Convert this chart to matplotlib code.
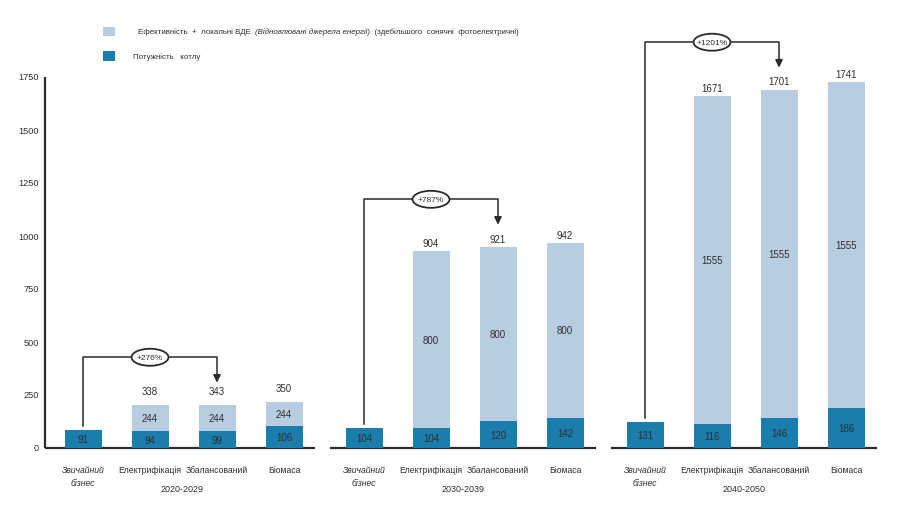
import matplotlib
matplotlib.use('Agg')
import matplotlib.pyplot as plt
from matplotlib.patches import Ellipse, Rectangle

# --- data ---
categories = ['Звичайний\nбізнес', 'Електрифікація', 'Збалансований', 'Біомаса']
periods = ['2020-2029', '2030-2039', '2040-2050']
growth = ['+276%', '+787%', '+1201%']

# printed values
kotel = [[91, 94, 99, 106], [104, 104, 120, 142], [131, 116, 146, 186]]
efekt = [[0, 244, 244, 244], [0, 800, 800, 800], [0, 1555, 1555, 1555]]
totals = [[0, 338, 343, 350], [0, 904, 921, 942], [0, 1671, 1701, 1741]]

# bar heights as they are drawn in the original (not always to scale with the labels)
kotel_bar = [[85, 80, 80, 104], [94, 94, 127, 142], [123, 113, 142, 189]]
efekt_bar = [[0, 123, 123, 113], [0, 835, 821, 825], [0, 1547, 1547, 1537]]

yticks = [0, 250, 500, 750, 1000, 1250, 1500, 1750]

legend_light = 'Ефективність  +  локальні ВДЕ  '
legend_light_it = '(Відновлювані джерела енергії)'
legend_light_end = '  (здебільшого  сонячні  фотоелектричні)'
legend_dark = 'Потужність   котлу'

DARK = '#1a7dab'
LIGHT = '#b9cde1'
TXT = '#2e2e2e'
LINE = '#2b2b2b'

plt.rcParams['font.family'] = ['Liberation Sans', 'DejaVu Sans']

fig = plt.figure(figsize=(9, 5.06), dpi=100)
ax = fig.add_axes([0, 0, 1, 1])
# x in pixel units, y in data units: 0 sits at 449 px, 1750 at 78 px
px = 0.212
ax.set_xlim(0, 900)
ax.set_ylim(-(506 - 449) / px, 449 / px)
ax.axis('off')

group_x0 = [83, 364, 645]
step = 67
bar_w = 37
fs = 6.2

# y axis of the first panel
ax.plot([45, 45], [0, 1750], color=LINE, lw=1.6, solid_capstyle='butt')
for t in yticks:
    ax.text(39, t, str(t), ha='right', va='center', fontsize=6.6, color=TXT)

for g in range(3):
    xs = [group_x0[g] + i * step for i in range(4)]
    # baseline
    left = 45 if g == 0 else xs[0] - 34
    ax.plot([left, xs[-1] + 31], [0, 0], color=LINE, lw=1.6, solid_capstyle='butt')

    ax.bar(xs, kotel_bar[g], width=bar_w, color=DARK, zorder=2)
    ax.bar(xs, efekt_bar[g], width=bar_w, bottom=kotel_bar[g], color=LIGHT, zorder=2)

    for i, x in enumerate(xs):
        ax.text(x, kotel_bar[g][i] / 2, str(kotel[g][i]), ha='center', va='center',
                fontsize=7, color=TXT, zorder=3)
        if efekt[g][i]:
            ax.text(x, kotel_bar[g][i] + efekt_bar[g][i] / 2, str(efekt[g][i]),
                    ha='center', va='center', fontsize=7, color=TXT, zorder=3)
            top = kotel_bar[g][i] + efekt_bar[g][i]
            lift = 66 if g == 0 else 40
            ax.text(x, top + lift, str(totals[g][i]), ha='center', va='center',
                    fontsize=7, color=TXT)
        ax.text(x, -82, categories[i], ha='center', va='top', fontsize=fs, color=TXT,
                style='italic' if i == 0 else 'normal', linespacing=1.5)
    ax.text(xs[1] + 32, -192, periods[g], ha='center', va='center', fontsize=6.5, color=TXT)

    # bracket from business-as-usual bar to the balanced scenario
    src_top = kotel_bar[g][0]
    dst_top = kotel_bar[g][2] + efekt_bar[g][2]
    y_h = dst_top + 225
    ax.plot([xs[0], xs[0], xs[2], xs[2]], [src_top + 20, y_h, y_h, dst_top + 140],
            color=LINE, lw=1.1, zorder=4)
    ax.annotate('', xy=(xs[2], dst_top + 92), xytext=(xs[2], dst_top + 145),
                arrowprops=dict(arrowstyle='-|>,head_length=0.45,head_width=0.22',
                                color=LINE, lw=1.1), zorder=4)
    ex = xs[0] + 0.5 * (xs[2] - xs[0])
    ax.add_patch(Ellipse((ex, y_h), 37, 17 / px, facecolor='white', edgecolor=LINE,
                         lw=1.3, zorder=5))
    ax.text(ex, y_h, growth[g], ha='center', va='center', fontsize=6, color=TXT, zorder=6)

# legend
y1 = (449 - 32) / px
y2 = (449 - 57) / px
ax.add_patch(Rectangle((103, y1 - 4.5 / px), 12, 9 / px, facecolor=LIGHT, edgecolor='none'))
ax.add_patch(Rectangle((103, y2 - 5 / px), 12, 10 / px, facecolor=DARK, edgecolor='none'))
lfs = 5.7
t1 = ax.text(138, y1, legend_light, ha='left', va='center', fontsize=lfs, color=TXT)
fig.canvas.draw()
r = fig.canvas.get_renderer()
xinv = ax.transData.inverted()
bb = t1.get_window_extent(r)
x_next = xinv.transform((bb.x1, bb.y0))[0]
t2 = ax.text(x_next, y1, legend_light_it, ha='left', va='center', fontsize=lfs,
             color=TXT, style='italic')
bb = t2.get_window_extent(r)
x_next = xinv.transform((bb.x1, bb.y0))[0]
ax.text(x_next, y1, legend_light_end, ha='left', va='center', fontsize=lfs, color=TXT)
ax.text(133, y2, legend_dark, ha='left', va='center', fontsize=lfs, color=TXT)

fig.savefig('out.png', dpi=100)
